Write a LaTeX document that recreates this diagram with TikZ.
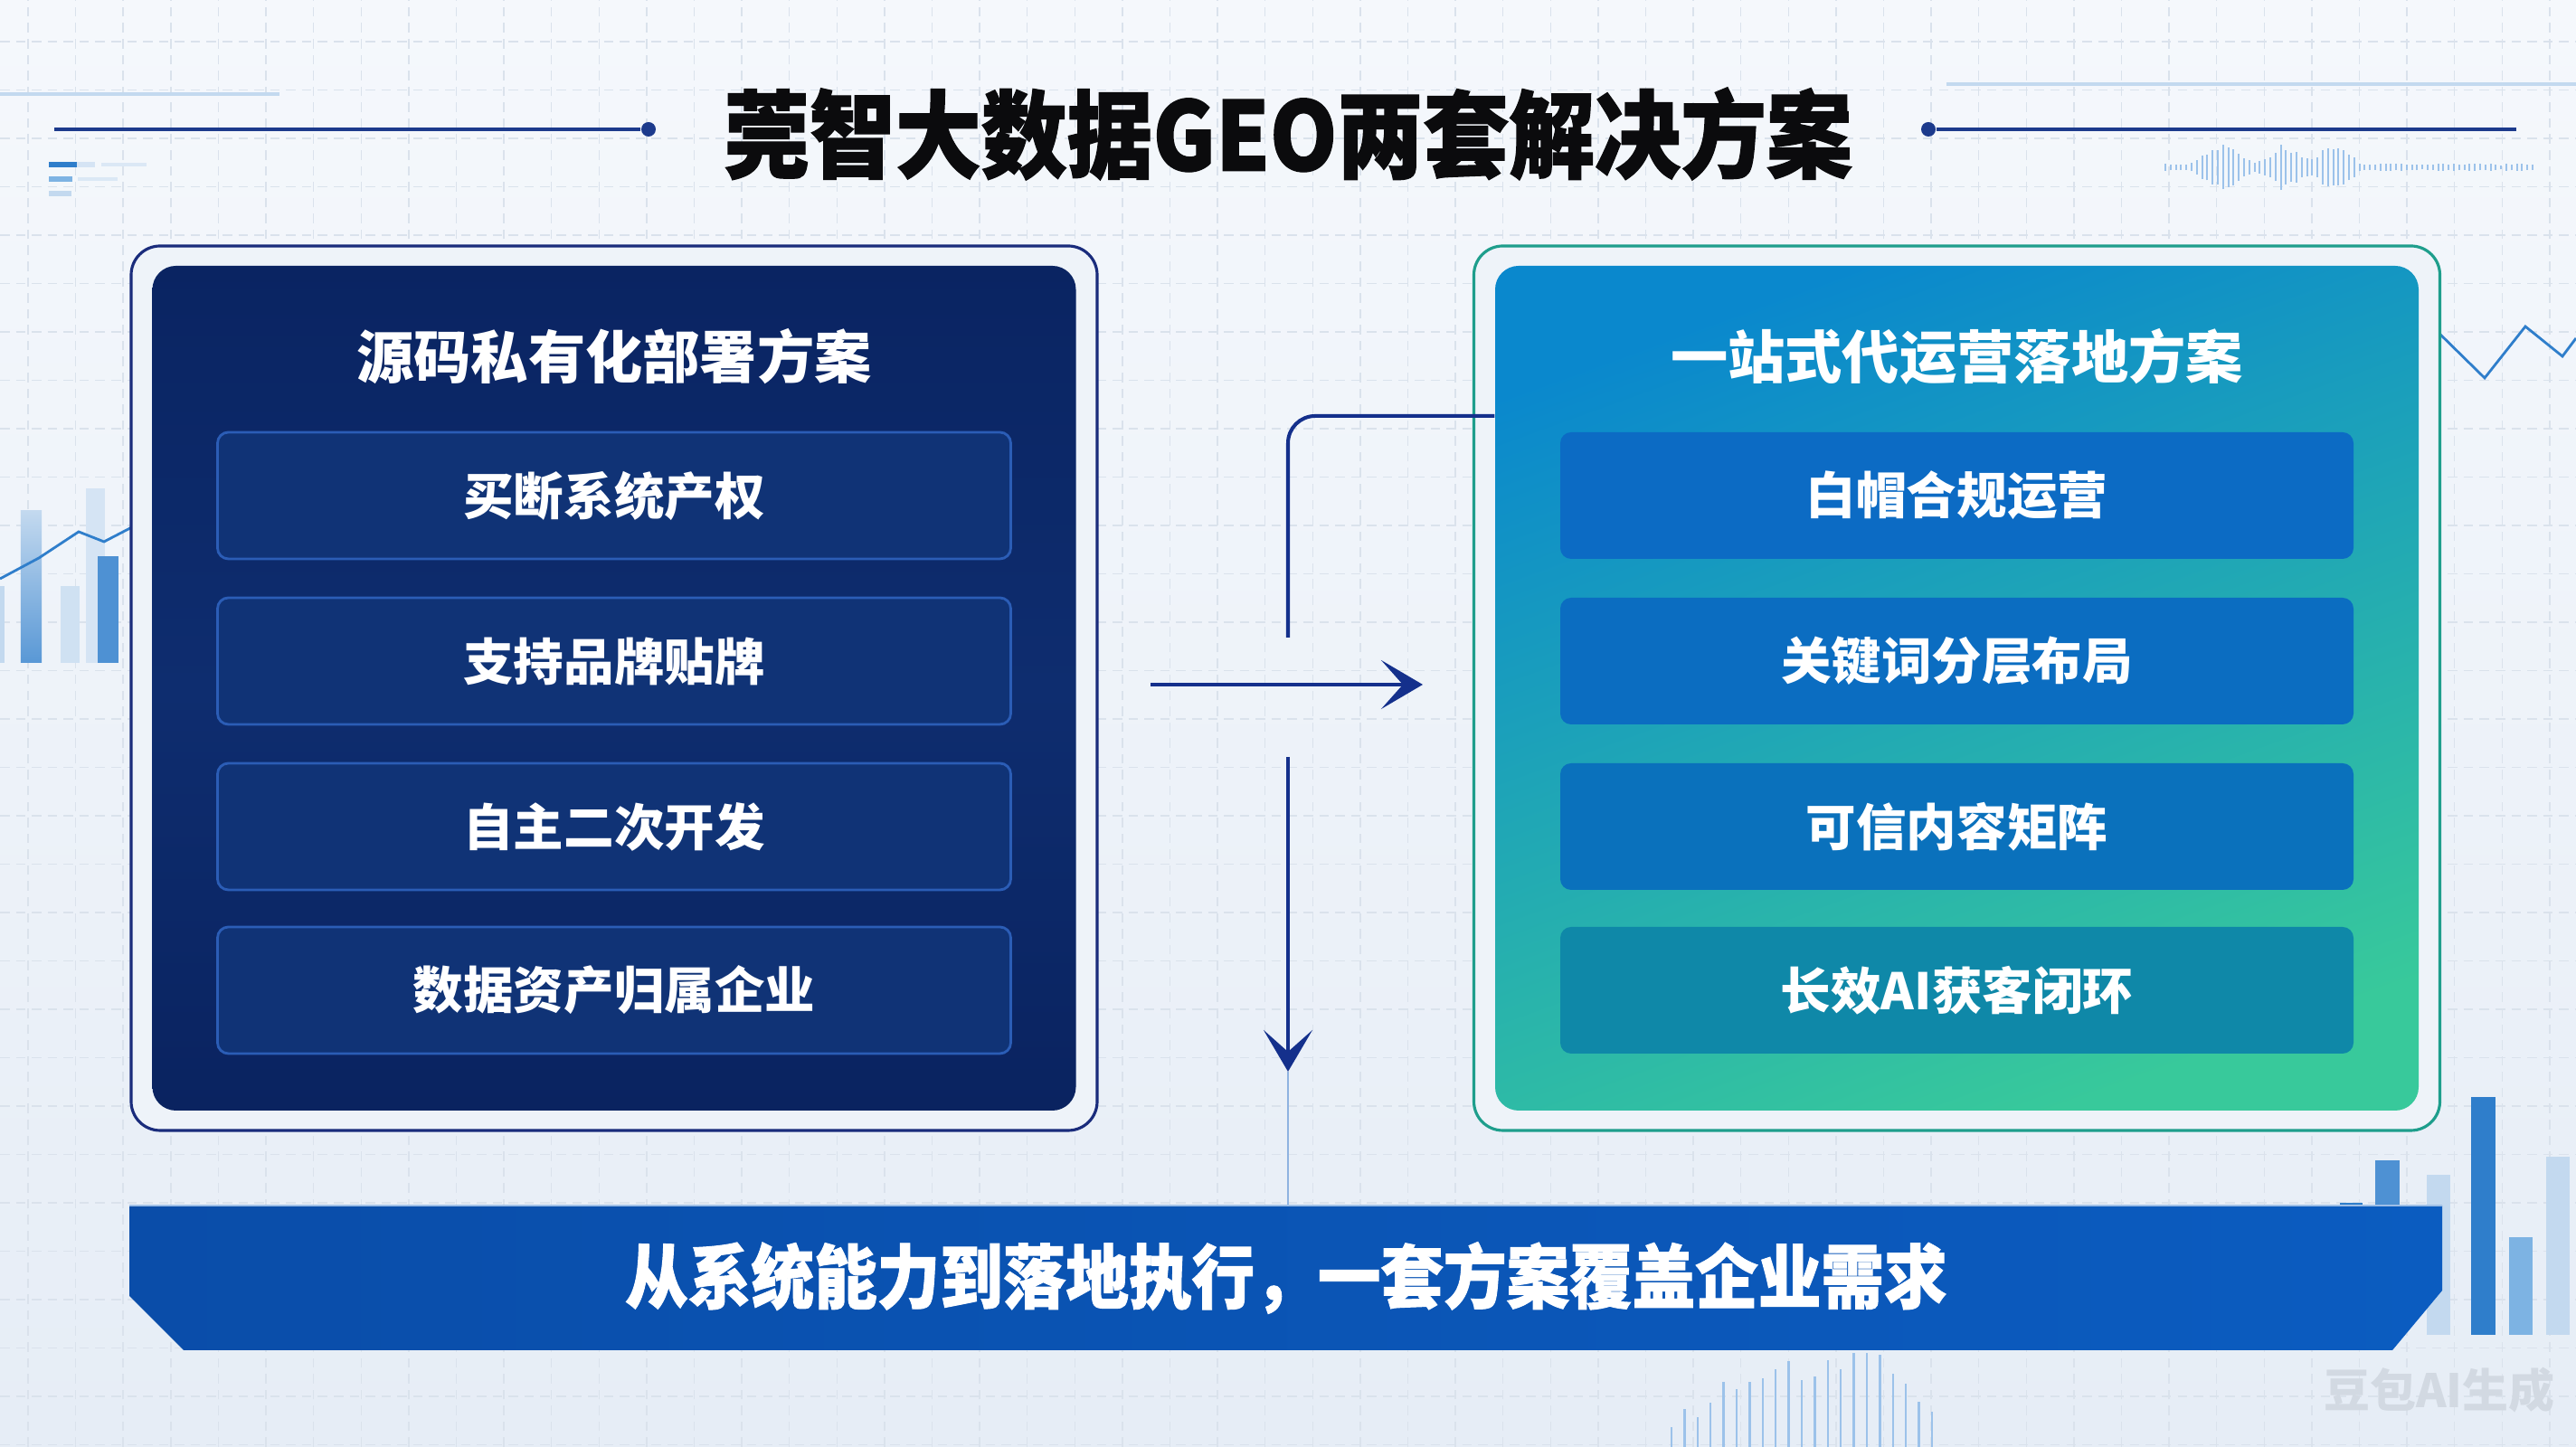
\documentclass[tikz,border=0pt]{standalone}
\usepackage{fontspec}
\setmainfont{Noto Sans CJK SC}
\newfontfamily\titlefont{Noto Sans CJK SC}[FakeStretch=0.9, BoldFeatures={FakeBold=1.2}]
\usetikzlibrary{arrows.meta,positioning,calc}
\definecolor{ink}{HTML}{0B0B0D}
\definecolor{bgTop}{HTML}{F5F8FC}
\definecolor{bgBot}{HTML}{E6EDF6}
\definecolor{gridC}{HTML}{DAE2EC}
\definecolor{ruleC}{HTML}{1C3A8C}
\definecolor{shellFill}{HTML}{EEF3F9}
\definecolor{navyLine}{HTML}{1A2C7C}
\definecolor{navyT}{HTML}{0A2462}
\definecolor{navyM}{HTML}{0E2D6F}
\definecolor{navyB}{HTML}{0A2360}
\definecolor{navyItem}{HTML}{103376}
\definecolor{navyEdge}{HTML}{2B5DB6}
\definecolor{tealLine}{HTML}{1E9E8C}
\definecolor{opsTop}{HTML}{0A88CD}
\definecolor{opsBot}{HTML}{38C99B}
\definecolor{opsA}{HTML}{0C6BC4}
\definecolor{opsB}{HTML}{0B6DC1}
\definecolor{opsC}{HTML}{0A71BC}
\definecolor{opsD}{HTML}{0F88A8}
\definecolor{arrowC}{HTML}{14308C}
\definecolor{faintC}{HTML}{8FB3E0}
\definecolor{bannerL}{HTML}{0A4DA9}
\definecolor{bannerR}{HTML}{0B5CC0}
\definecolor{chartA}{HTML}{2F7ECB}
\definecolor{chartB}{HTML}{7DB3E3}
\definecolor{chartC}{HTML}{C3D9EF}
\definecolor{waveC}{HTML}{9CC2EA}
\definecolor{markC}{HTML}{D2D9E2}
\newcommand{\lblTitle}{莞智大数据GEO两套解决方案}
\newcommand{\lblSrc}{源码私有化部署方案}
\newcommand{\lblOps}{一站式代运营落地方案}
\newcommand{\lblBanner}{从系统能力到落地执行，一套方案覆盖企业需求}
\newcommand{\lblMark}{豆包AI生成}

\begin{document}
\begin{tikzpicture}[
  >={Stealth[length=4.6mm, width=5.4mm, inset=2.4mm]},
  shell/.style   ={rounded corners=0.32cm, line width=0.9pt, inner sep=0pt,
                   minimum width=10.68cm, minimum height=9.78cm, fill=shellFill},
  srcshell/.style={shell, draw=navyLine},
  opsshell/.style={shell, draw=tealLine},
  card/.style    ={rounded corners=0.26cm, inner sep=0pt,
                   minimum width=10.21cm, minimum height=9.34cm},
  srccard/.style ={card, top color=navyT, bottom color=navyB, middle color=navyM},
  opscard/.style ={card, top color=opsTop, bottom color=opsBot, shading angle=20},
  head/.style    ={text=white, inner sep=0pt, font=\bfseries\fontsize{18}{18}\selectfont},
  entry/.style   ={rounded corners=0.12cm, inner sep=0pt, text=white,
                   minimum width=8.77cm, minimum height=1.40cm,
                   font=\bfseries\fontsize{15.8}{16}\selectfont},
  srcitem/.style ={entry, fill=navyItem, draw=navyEdge, line width=0.8pt},
  opsitem/.style ={entry, fill=#1},
  flow/.style    ={->, draw=arrowC, line width=1.15pt},
  link/.style    ={draw=arrowC, line width=1.15pt, rounded corners=0.3cm},
  faint/.style   ={draw=faintC, line width=0.6pt},
  rule/.style    ={draw=ruleC, line width=0.9pt},
  dotmark/.style ={circle, fill=ruleC, minimum size=0.16cm, inner sep=0pt},
  gridln/.style  ={draw=gridC, line width=0.4pt, dash pattern=on 3pt off 2pt},
  wave/.style    ={draw=waveC, line width=0.6pt},
]

% ---- geometry --------------------------------------------------------------
\def\cL{6.79}   \def\cR{21.635}
\def\rowA{10.52} \def\rowB{8.69} \def\rowC{6.86} \def\rowD{5.05}
\def\midY{8.39}  \def\axis{14.24}

\useasboundingbox (0,0) rectangle (28.48,16);

% ---- backdrop --------------------------------------------------------------
\shade[top color=bgTop, bottom color=bgBot] (0,0) rectangle (28.48,16);
\foreach \gx in {0,...,54} \draw[gridln] ({0.31+\gx*0.526},0) -- ++(0,16);
\foreach \gy in {0,...,29} \draw[gridln] (0,{0.025+\gy*0.535}) -- ++(28.48,0);

% faint chart furniture round the edges
\fill[chartC!70] (0.54,14.15) rectangle (1.05,14.21);
\fill[chartA] (0.54,14.15) rectangle (0.85,14.21);
\fill[chartB] (0.54,13.99) rectangle (0.80,14.05);
\fill[chartC] (0.54,13.83) rectangle (0.79,13.89);
\fill[chartC!60] (1.12,14.16) rectangle (1.62,14.20);
\fill[chartC!60] (0.86,14.00) rectangle (1.30,14.04);
\draw[chartC, line width=1pt] (0,14.96) -- (3.09,14.96);
\draw[chartC, line width=1pt] (21.52,15.07) -- (28.48,15.07);

\fill[chartC] (0,8.67) rectangle (0.05,9.52);
\shade[top color=chartC, bottom color=chartA!80] (0.23,8.67) rectangle (0.46,10.35);
\fill[chartC!80] (0.67,8.67) rectangle (0.88,9.52);
\fill[chartC!70] (0.95,8.67) rectangle (1.16,10.60);
\fill[chartA!85] (1.08,8.67) rectangle (1.31,9.85);
\draw[chartA, line width=0.8pt] (0,9.60) -- (0.43,9.83) -- (0.87,10.12)
  -- (1.15,10.01) -- (1.67,10.28);

\fill[chartA] (25.87,1.24) rectangle (26.12,2.70);
\fill[chartA!85] (26.26,1.24) rectangle (26.53,3.17);
\fill[chartC] (26.83,1.24) rectangle (27.09,3.01);
\fill[chartA] (27.32,1.24) rectangle (27.59,3.87);
\fill[chartB] (27.74,1.24) rectangle (28.00,2.32);
\fill[chartC] (28.15,1.24) rectangle (28.41,3.21);
\draw[chartA, line width=0.8pt] (26.60,12.10) -- (26.92,12.36) -- (27.47,11.82)
  -- (27.92,12.39) -- (28.33,12.06) -- (28.48,12.26);

\pgfmathsetseed{7}
\foreach \i in {0,...,70}{
  \pgfmathsetmacro\wx{23.94+0.058*\i}
  \pgfmathsetmacro\wh{(0.04+0.27*max(0,1-abs(\wx-24.6)/0.38)+0.26*max(0,1-abs(\wx-25.25)/0.32)
                      +0.24*max(0,1-abs(\wx-25.8)/0.32))*(0.6+0.4*rnd)}
  \draw[wave] ({\wx},{14.15-\wh}) -- ({\wx},{14.15+\wh});
}
\foreach \h [count=\k] in {0.22,0.42,0.33,0.49,0.72,0.64,0.72,0.76,0.86,0.95,0.74,
                            0.78,0.96,0.86,1.04,1.04,1.02,0.81,0.70,0.50,0.39}
  \draw[wave, line width=0.7pt] ({18.336+\k*0.144},0) -- ++(0,\h);

% ---- title -----------------------------------------------------------------
\node[text=ink, inner sep=0pt, font=\titlefont\bfseries\fontsize{30}{30}\selectfont]
  (title) at (\axis,14.52) {\lblTitle};
\node[dotmark] (dotL) at (7.17,14.57) {};
\node[dotmark] (dotR) at (21.32,14.57) {};
\coordinate (ruleL) at (0.60,14.57);
\coordinate (ruleR) at (27.82,14.57);
\draw[rule] (ruleL) -- (dotL);
\draw[rule] (dotR) -- (ruleR);

% ---- left: source deployment -----------------------------------------------
\node[srcshell] (srcShell) at (\cL,\midY) {};
\node[srccard]  (srcCard)  at (\cL,\midY) {};
\node[head]     (srcHead)  at (\cL,12.06) {\lblSrc};
\node[srcitem]  (s1) at (\cL,\rowA) {买断系统产权};
\node[srcitem]  (s2) at (\cL,\rowB) {支持品牌贴牌};
\node[srcitem]  (s3) at (\cL,\rowC) {自主二次开发};
\node[srcitem]  (s4) at (\cL,\rowD) {数据资产归属企业};

% ---- right: managed operation ----------------------------------------------
\node[opsshell] (opsShell) at (\cR,\midY) {};
\node[opscard]  (opsCard)  at (\cR,\midY) {};
\node[head]     (opsHead)  at (\cR,12.06) {\lblOps};
\node[opsitem=opsA] (o1) at (\cR,\rowA) {白帽合规运营};
\node[opsitem=opsB] (o2) at (\cR,\rowB) {关键词分层布局};
\node[opsitem=opsC] (o3) at (\cR,\rowC) {可信内容矩阵};
\node[opsitem=opsD] (o4) at (\cR,\rowD) {长效AI获客闭环};

% ---- connectors ------------------------------------------------------------
\coordinate (hA)     at (12.72,8.43);
\coordinate (hB)     at (15.73,8.43);
\coordinate (turn)   at (\axis,11.40);
\coordinate (gapTop) at (\axis,8.95);
\coordinate (gapBot) at (\axis,7.63);
\coordinate (down)   at (\axis,4.15);
\coordinate (bTop)   at (\axis,2.67);

\draw[flow] (hA) -- (hB);
\draw[link] (opsCard.west |- turn) -- (turn) -- (gapTop);
\draw[flow] (gapBot) -- (down);
\draw[faint] (down) -- (bTop);

% ---- banner ----------------------------------------------------------------
\shade[left color=bannerL, right color=bannerR]
  (1.43,2.67) -- (27.00,2.67) -- (27.00,1.73) -- (26.45,1.07)
  -- (2.03,1.07) -- (1.43,1.67) -- cycle;
\draw[white!60!bannerR, line width=0.6pt] (1.43,2.67) -- (27.00,2.67);
\node[text=white, inner sep=0pt, font=\titlefont\bfseries\fontsize{22}{22}\selectfont]
  (banner) at (14.22,1.87) {\lblBanner};

\node[text=markC, inner sep=0pt, font=\bfseries\fontsize{14.5}{15}\selectfont]
  (mark) at (26.97,0.63) {\lblMark};

\end{tikzpicture}
\end{document}
